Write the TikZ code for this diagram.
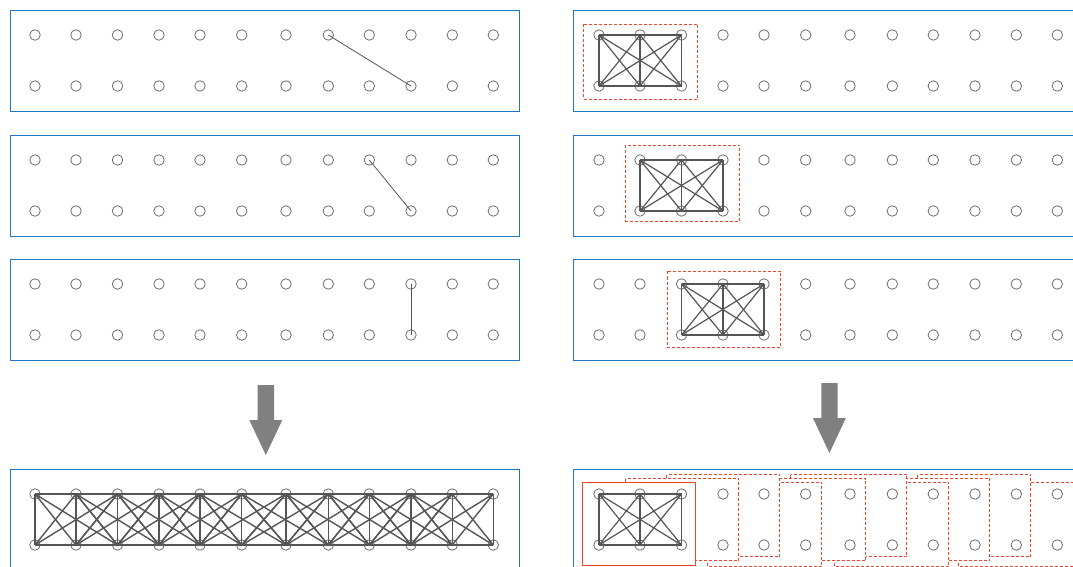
\documentclass[tikz,border=0pt]{standalone}
\definecolor{panelblue}{RGB}{30,120,200}
\definecolor{winred}{RGB}{240,70,40}
\definecolor{dotgray}{RGB}{110,110,110}
\definecolor{edgegray}{RGB}{85,85,85}
\definecolor{arrowgray}{RGB}{128,128,128}
\tikzset{
  dot/.style={circle, draw=dotgray, line width=0.8bp, minimum size=10.5bp, inner sep=0pt},
  panel/.style={draw=panelblue, line width=1bp},
  winbox/.style={draw=winred, line width=1.4bp, dash pattern=on 3bp off 2bp},
  cardbox/.style={draw=winred, fill=white, line width=1.4bp, dash pattern=on 3bp off 2bp},
  solidcard/.style={draw=winred, fill=white, line width=1.4bp},
  thinedge/.style={draw=edgegray, line width=0.8bp},
  kedge/.style={draw=edgegray, line width=1.2bp},
  fulledge/.style={draw=edgegray, line width=1.4bp},
  bigarrow/.style={fill=arrowgray, draw=none}
}
\newcommand\drawwindow[3]{%
  \foreach \ca/\ra/\cb/\rb in {0/t/1/t,0/t/2/t,1/t/2/t,0/b/1/b,0/b/2/b,1/b/2/b,0/t/0/b,1/t/1/b,2/t/2/b,0/t/1/b,0/t/2/b,1/t/0/b,1/t/2/b,2/t/0/b,2/t/1/b}{%
    \pgfmathtruncatemacro\ia{#2+\ca}%
    \pgfmathtruncatemacro\ib{#2+\cb}%
    \draw[#3] (#1-\ia-\ra.center) -- (#1-\ib-\rb.center);
  }%
}
\def\colsL{35,76,117.5,159,200,241.7,286,328.3,369.3,411,452.3,493.3}
\begin{document}
\begin{tikzpicture}[x=1bp,y=-1bp]
\useasboundingbox (0,0) rectangle (1073,567);
\clip (0,0) rectangle (1073,567);

% panels
\draw[panel] (10.5,10.5) rectangle (519.5,111.5);
\draw[panel] (10.5,135.5) rectangle (519.5,236.5);
\draw[panel] (10.5,259.5) rectangle (519.5,360.5);
\draw[panel] (10.5,469.5) rectangle (519.5,600);
\draw[panel] (573.5,10.5) rectangle (1100,111.5);
\draw[panel] (573.5,135.5) rectangle (1100,236.5);
\draw[panel] (573.5,259.5) rectangle (1100,360.5);
\draw[panel] (573.5,469.5) rectangle (1100,600);

% arrows
\fill[bigarrow] (257.7,385) -- (274,385) -- (274,420) -- (282.3,420) -- (265.8,455) -- (249.3,420) -- (257.7,420) -- cycle;
\fill[bigarrow] (821.3,383) -- (837.6,383) -- (837.6,418) -- (845.9,418) -- (829.4,453) -- (812.9,418) -- (821.3,418) -- cycle;

% stacked windows (back to front)
\draw[cardbox] (958.5,482.5) rectangle (1074.5,566.5);
\draw[cardbox] (917.5,474.5) rectangle (1030.5,556.5);
\draw[cardbox] (875.5,478.5) rectangle (989.5,560.5);
\draw[cardbox] (834.5,482.5) rectangle (948.5,566.5);
\draw[cardbox] (790.5,474.5) rectangle (906.5,556.5);
\draw[cardbox] (748.5,478.5) rectangle (865.5,560.5);
\draw[cardbox] (707.5,482.5) rectangle (821.5,566.5);
\draw[cardbox] (666.5,474.5) rectangle (779.5,556.5);
\draw[cardbox] (625.5,478.5) rectangle (738.5,560.5);
\draw[solidcard] (582.5,482.5) rectangle (695.5,565.5);

% sliding windows
\draw[winbox] (583.5,24.5) rectangle (697.5,99.5);
\draw[winbox] (625.5,145.5) rectangle (739.5,221.5);
\draw[winbox] (667.5,271.5) rectangle (780.5,347.5);

% dots
\foreach \p/\ty/\dx in {A/35/0, B/160/0, C/284/0, D/494/0, E/35/564, F/160/564, G/284/564, H/494/564}{
  \foreach \x [count=\i] in \colsL {
    \node[dot] (\p-\i-t) at (\x+\dx,\ty) {};
    \node[dot] (\p-\i-b) at (\x+\dx,\ty+51) {};
  }
}

% single edges
\draw[thinedge] (A-8-t.center) -- (A-10-b.center);
\draw[thinedge] (B-9-t.center) -- (B-10-b.center);
\draw[thinedge] (C-10-t.center) -- (C-10-b.center);

% full graph
\foreach \k in {1,...,10}{\drawwindow{D}{\k}{fulledge}}

% window graphs
\drawwindow{E}{1}{kedge}
\drawwindow{F}{2}{kedge}
\drawwindow{G}{3}{kedge}
\drawwindow{H}{1}{kedge}
\end{tikzpicture}
\end{document}
